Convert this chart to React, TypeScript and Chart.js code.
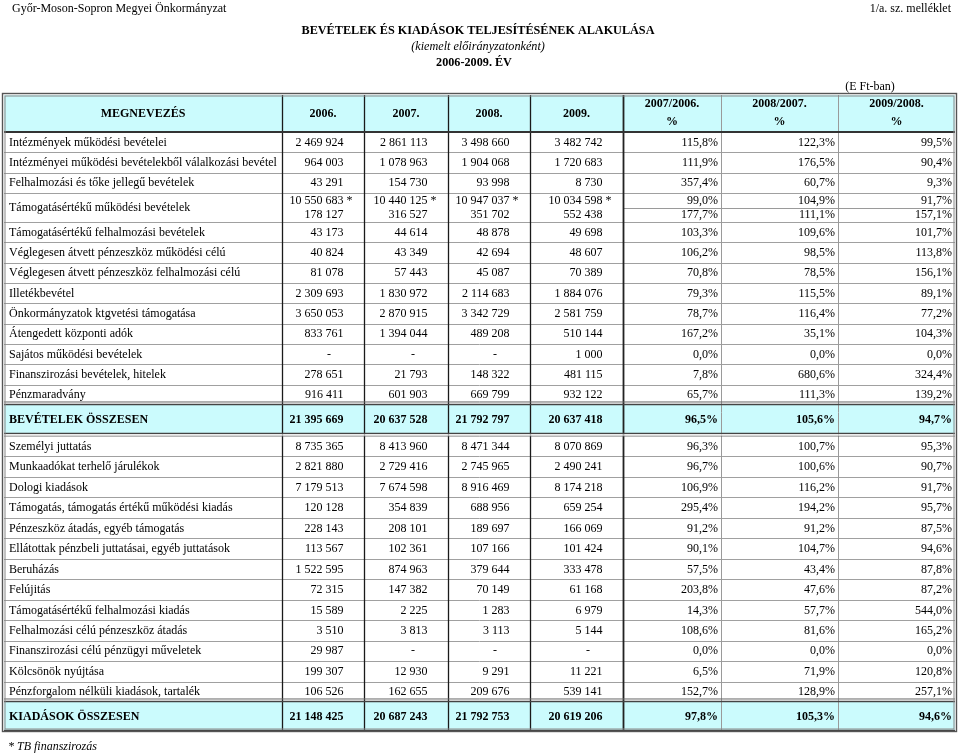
import React, { useEffect, useRef } from "react";
import { Chart, registerables } from "chart.js";

Chart.register(...registerables);

// ---------- DATA ----------
const pageHeaderLeft = "Győr-Moson-Sopron Megyei Önkormányzat";
const pageHeaderRight = "1/a. sz. melléklet";
const titleLines = [
  "BEVÉTELEK ÉS KIADÁSOK TELJESÍTÉSÉNEK ALAKULÁSA",
  "(kiemelt előirányzatonként)",
  "2006-2009. ÉV",
];
const unitNote = "(E Ft-ban)";
const footnote = "* TB finanszirozás";

const columnHeaders = [
  ["MEGNEVEZÉS"],
  ["2006."],
  ["2007."],
  ["2008."],
  ["2009."],
  ["2007/2006.", "%"],
  ["2008/2007.", "%"],
  ["2009/2008.", "%"],
];

const rowLabels = [
  "Intézmények működési bevételei",
  "Intézményei működési bevételekből válalkozási bevétel",
  "Felhalmozási és tőke jellegű bevételek",
  "Támogatásértékű működési bevételek",
  "",
  "Támogatásértékű felhalmozási bevételek",
  "Véglegesen átvett pénzeszköz működési célú",
  "Véglegesen átvett pénzeszköz felhalmozási célú",
  "Illetékbevétel",
  "Önkormányzatok ktgvetési támogatása",
  "Átengedett központi adók",
  "Sajátos működési bevételek",
  "Finanszirozási bevételek, hitelek",
  "Pénzmaradvány",
  "BEVÉTELEK ÖSSZESEN",
  "Személyi juttatás",
  "Munkaadókat terhelő járulékok",
  "Dologi kiadások",
  "Támogatás, támogatás értékű működési kiadás",
  "Pénzeszköz átadás, egyéb támogatás",
  "Ellátottak pénzbeli juttatásai, egyéb juttatások",
  "Beruházás",
  "Felújitás",
  "Támogatásértékű felhalmozási kiadás",
  "Felhalmozási célú pénzeszköz átadás",
  "Finanszirozási célú pénzügyi műveletek",
  "Kölcsönök nyújtása",
  "Pénzforgalom nélküli kiadások, tartalék",
  "KIADÁSOK ÖSSZESEN",
];

const v2006 = [2469924, 964003, 43291, 10550683, 178127, 43173, 40824, 81078, 2309693, 3650053, 833761, null, 278651, 916411, 21395669, 8735365, 2821880, 7179513, 120128, 228143, 113567, 1522595, 72315, 15589, 3510, 29987, 199307, 106526, 21148425];
const v2007 = [2861113, 1078963, 154730, 10440125, 316527, 44614, 43349, 57443, 1830972, 2870915, 1394044, null, 21793, 601903, 20637528, 8413960, 2729416, 7674598, 354839, 208101, 102361, 874963, 147382, 2225, 3813, null, 12930, 162655, 20687243];
const v2008 = [3498660, 1904068, 93998, 10947037, 351702, 48878, 42694, 45087, 2114683, 3342729, 489208, null, 148322, 669799, 21792797, 8471344, 2745965, 8916469, 688956, 189697, 107166, 379644, 70149, 1283, 3113, null, 9291, 209676, 21792753];
const v2009 = [3482742, 1720683, 8730, 10034598, 552438, 49698, 48607, 70389, 1884076, 2581759, 510144, 1000, 481115, 932122, 20637418, 8070869, 2490241, 8174218, 659254, 166069, 101424, 333478, 61168, 6979, 5144, null, 11221, 539141, 20619206];
const pct0706 = [115.8, 111.9, 357.4, 99.0, 177.7, 103.3, 106.2, 70.8, 79.3, 78.7, 167.2, 0.0, 7.8, 65.7, 96.5, 96.3, 96.7, 106.9, 295.4, 91.2, 90.1, 57.5, 203.8, 14.3, 108.6, 0.0, 6.5, 152.7, 97.8];
const pct0807 = [122.3, 176.5, 60.7, 104.9, 111.1, 109.6, 98.5, 78.5, 115.5, 116.4, 35.1, 0.0, 680.6, 111.3, 105.6, 100.7, 100.6, 116.2, 194.2, 91.2, 104.7, 43.4, 47.6, 57.7, 81.6, 0.0, 71.9, 128.9, 105.3];
const pct0908 = [99.5, 90.4, 9.3, 91.7, 157.1, 101.7, 113.8, 156.1, 89.1, 77.2, 104.3, 0.0, 324.4, 139.2, 94.7, 95.3, 90.7, 91.7, 95.7, 87.5, 94.6, 87.8, 87.2, 544.0, 165.2, 0.0, 120.8, 257.1, 94.6];

const starredRow = 3; // TB finanszirozás line
const splitPair = [3, 4]; // two lines sharing one label
const totalRows = [14, 28];

// ---------- LAYOUT (not data) ----------
const colWidths = [278, 82, 84, 82, 93, 98, 117, 117];
const HEADER_H = 37;
const REV_H = 20.33;
const SPLIT_H = 14.5;
const TOTAL_H = 28;
const GAP_H = 3;
const EXP_H = 20.46;

const FONT = '"Liberation Serif", "Times New Roman", serif';
const FS = 12;
const CYAN = "#cbfbfd";

function fmtNum(n: number | null): string {
  if (n === null || n === undefined) return "-";
  return String(n).replace(/\B(?=(\d{3})+(?!\d))/g, " ");
}
function fmtPct(p: number): string {
  return p.toFixed(1).replace(".", ",") + "%";
}

function rowLayout() {
  const tops: number[] = [];
  const heights: number[] = [];
  let y = HEADER_H;
  for (let i = 0; i < rowLabels.length; i++) {
    let h: number;
    if (totalRows.includes(i)) h = TOTAL_H;
    else if (splitPair.includes(i)) h = SPLIT_H;
    else if (i < totalRows[0]) h = REV_H;
    else h = EXP_H;
    tops.push(y);
    heights.push(h);
    y += h;
    if (i === totalRows[0]) y += GAP_H;
  }
  return { tops, heights, total: y };
}

const layout = rowLayout();
const colEdges = colWidths.reduce((acc: number[], w) => {
  acc.push(acc[acc.length - 1] + w);
  return acc;
}, [0]);

const tablePlugin = {
  id: "tablePlugin",
  afterDraw(chart: any) {
    const ctx: CanvasRenderingContext2D = chart.ctx;
    const xs = chart.scales.x;
    const ys = chart.scales.y;
    const X = (u: number) => xs.getPixelForValue(u);
    const Y = (u: number) => ys.getPixelForValue(u);

    ctx.save();
    ctx.textBaseline = "middle";
    ctx.fillStyle = "#000";

    // page header texts
    ctx.font = `${FS}px ${FONT}`;
    ctx.textAlign = "left";
    ctx.fillText(pageHeaderLeft, 12, 9);
    ctx.textAlign = "right";
    ctx.fillText(pageHeaderRight, 951, 9);
    ctx.textAlign = "center";
    ctx.font = `bold 12.2px ${FONT}`;
    ctx.fillText(titleLines[0], 478, 31);
    ctx.font = `italic 12.2px ${FONT}`;
    ctx.fillText(titleLines[1], 478, 47);
    ctx.font = `bold 12.2px ${FONT}`;
    ctx.fillText(titleLines[2], 474, 63);
    ctx.font = `${FS}px ${FONT}`;
    ctx.fillText(unitNote, 870, 87);

    const left = X(0);
    const right = X(colEdges[colEdges.length - 1]);
    const top = Y(0);
    const bottom = Y(layout.total);

    // fills
    ctx.fillStyle = CYAN;
    ctx.fillRect(left, top, right - left, Y(HEADER_H) - top);
    totalRows.forEach((r) => {
      const t = Y(layout.tops[r]);
      const b = Y(layout.tops[r] + layout.heights[r]);
      ctx.fillRect(left, t, right - left, b - t);
    });

    const hline = (y: number, x0: number, x1: number, color: string, w: number) => {
      ctx.strokeStyle = color;
      ctx.lineWidth = w;
      ctx.beginPath();
      ctx.moveTo(x0, y);
      ctx.lineTo(x1, y);
      ctx.stroke();
    };
    const vline = (x: number, y0: number, y1: number, color: string, w: number) => {
      ctx.strokeStyle = color;
      ctx.lineWidth = w;
      ctx.beginPath();
      ctx.moveTo(x, y0);
      ctx.lineTo(x, y1);
      ctx.stroke();
    };

    // horizontal row separators
    for (let i = 0; i < rowLabels.length; i++) {
      const yb = Y(layout.tops[i] + layout.heights[i]);
      if (totalRows.includes(i)) continue;
      if (totalRows.includes(i + 1)) continue;
      if (i === splitPair[0]) {
        hline(Math.round(yb) + 0.5, X(colEdges[5]), right, "#9a9a9a", 1);
        continue;
      }
      hline(Math.round(yb) + 0.5, left, right, "#a0a0a0", 1);
    }

    // vertical separators
    const dataTop = Y(0);
    for (let c = 1; c < colEdges.length - 1; c++) {
      const x = Math.round(X(colEdges[c])) + 0.5;
      if (c <= 4) vline(x, dataTop, bottom, "#1a1a1a", 1.3);
      else if (c === 5) vline(x, dataTop, bottom, "#222", 1.8);
      else vline(x, dataTop, bottom, "#9a9a9a", 1);
    }

    // header bottom
    hline(Y(HEADER_H), left, right, "#333", 2);

    // total borders (double)
    totalRows.forEach((r) => {
      const t = Y(layout.tops[r]);
      const b = Y(layout.tops[r] + layout.heights[r]);
      hline(t - 0.5, left, right, "#444", 1.6);
      hline(t - 3, left, right, "#666", 1);
      hline(b + 0.5, left, right, "#444", 1.6);
      if (r !== totalRows[1]) hline(b + 3, left, right, "#666", 1);
    });
    {
      const r = totalRows[0];
      const b = Y(layout.tops[r] + layout.heights[r]);
      ctx.fillStyle = "#fff";
      ctx.fillRect(left, b + 1.4, right - left, 1.1);
    }

    // outer double border
    ctx.strokeStyle = "#888";
    ctx.lineWidth = 1;
    ctx.strokeRect(left + 1, top + 1, right - left - 2, bottom - top - 2);
    ctx.strokeStyle = "#555";
    ctx.lineWidth = 1.4;
    ctx.strokeRect(left - 1.5, top - 1.5, right - left + 3, bottom - top + 3);

    // header texts
    ctx.fillStyle = "#000";
    ctx.font = `bold ${FS}px ${FONT}`;
    ctx.textAlign = "center";
    columnHeaders.forEach((lines, c) => {
      const cx = X((colEdges[c] + colEdges[c + 1]) / 2);
      if (lines.length === 1) {
        ctx.fillText(lines[0], cx, Y(HEADER_H / 2));
      } else {
        ctx.fillText(lines[0], cx, Y(HEADER_H * 0.25));
        ctx.fillText(lines[1], cx, Y(HEADER_H * 0.72));
      }
    });

    // body texts
    const valueCols = [v2006, v2007, v2008, v2009];
    const pctCols = [pct0706, pct0807, pct0908];
    for (let i = 0; i < rowLabels.length; i++) {
      const isTotal = totalRows.includes(i);
      ctx.font = `${isTotal ? "bold " : ""}${FS}px ${FONT}`;
      const cy = Y(layout.tops[i] + layout.heights[i] / 2) + 0.5;
      if (rowLabels[i]) {
        let ly = cy;
        if (i === splitPair[0]) {
          const a = layout.tops[splitPair[0]];
          const b = layout.tops[splitPair[1]] + layout.heights[splitPair[1]];
          ly = Y((a + b) / 2);
        }
        ctx.textAlign = "left";
        ctx.fillText(rowLabels[i], X(0) + 5, ly);
      }
      valueCols.forEach((arr, k) => {
        const rEdge = X(colEdges[k + 2]);
        const v = arr[i];
        if (v === null) {
          ctx.textAlign = "center";
          ctx.fillText("-", rEdge - 35, cy);
        } else {
          ctx.textAlign = "right";
          ctx.fillText(fmtNum(v), rEdge - 20.5, cy);
          if (i === starredRow) {
            ctx.textAlign = "left";
            ctx.fillText(" *", rEdge - 20.5, cy);
          }
        }
      });
      pctCols.forEach((arr, k) => {
        const rEdge = X(colEdges[k + 6]);
        ctx.textAlign = "right";
        ctx.fillText(fmtPct(arr[i]), rEdge - 3, cy);
      });
    }

    // footnote
    ctx.font = `italic ${FS}px ${FONT}`;
    ctx.textAlign = "left";
    ctx.fillText(footnote, 8, 747);

    ctx.restore();
  },
};

export default function App() {
  const canvasRef = useRef<HTMLCanvasElement | null>(null);

  useEffect(() => {
    if (!canvasRef.current) return;
    const chart = new Chart(canvasRef.current, {
      type: "scatter",
      data: { datasets: [] },
      options: {
        responsive: false,
        animation: false,
        devicePixelRatio: 1,
        layout: { padding: { left: 4, right: 5, top: 95, bottom: 24 } },
        plugins: {
          legend: { display: false },
          tooltip: { enabled: false },
          title: { display: false },
        },
        scales: {
          x: { type: "linear", min: 0, max: colEdges[colEdges.length - 1], display: false },
          y: { type: "linear", min: 0, max: layout.total, reverse: true, display: false },
        },
      },
      plugins: [tablePlugin],
    });
    return () => chart.destroy();
  }, []);

  return (
    <div style={{ position: "absolute", left: 0, top: 0, width: 960, height: 754, background: "#fff" }}>
      <canvas ref={canvasRef} width={960} height={754} style={{ display: "block" }} />
    </div>
  );
}
